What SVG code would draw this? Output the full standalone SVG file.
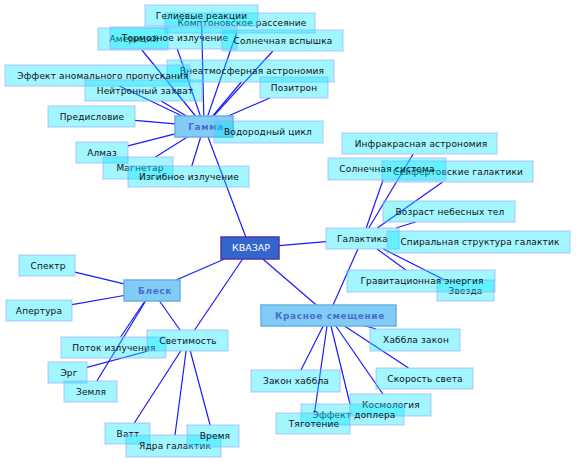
<svg xmlns="http://www.w3.org/2000/svg" width="576" height="463" viewBox="0 0 576 463">
<style>
.n rect{fill:#00e6ff;fill-opacity:.37;stroke:#9aa8ff;stroke-opacity:.45;stroke-width:1.5}
.n text{font-family:"DejaVu Sans",sans-serif;font-size:9px;fill:#111;text-anchor:middle;letter-spacing:.15px}
.h rect{fill:#80ccf4;stroke:#6aaee8;stroke-width:1.5}
.h text{font-family:"DejaVu Sans",sans-serif;font-size:9px;font-weight:bold;fill:#4a6cd0;text-anchor:middle;letter-spacing:.6px}
.q rect{fill:#3366cc;stroke:#5533aa;stroke-width:1.5}
.q text{font-family:"DejaVu Sans",sans-serif;font-size:9.5px;fill:#fff;text-anchor:middle}
.c line{stroke:#1a1aff;stroke-width:1.2}
</style>
<rect width="576" height="463" fill="#fff"/>
<g id="connectors" class="c">
<line x1="245.8" y1="237" x2="208" y2="137"/>
<line x1="279" y1="245.6" x2="326" y2="241.6"/>
<line x1="224.6" y1="259" x2="176.2" y2="280"/>
<line x1="242.6" y1="259" x2="194.6" y2="330"/>
<line x1="262.8" y1="259" x2="316.3" y2="305"/>
<line x1="357.9" y1="249" x2="333.1" y2="305"/>
<line x1="175" y1="123.9" x2="135" y2="120.4"/>
<line x1="175" y1="133.9" x2="128" y2="145.9"/>
<line x1="187.3" y1="137" x2="155.5" y2="157"/>
<line x1="200.7" y1="137" x2="191.8" y2="166"/>
<line x1="182.1" y1="116" x2="119.4" y2="86"/>
<line x1="186.4" y1="116" x2="161.1" y2="101"/>
<line x1="195.5" y1="116" x2="141.9" y2="50"/>
<line x1="200.4" y1="116" x2="177.3" y2="49"/>
<line x1="203.8" y1="116" x2="201.7" y2="26"/>
<line x1="207.7" y1="116" x2="236.5" y2="33"/>
<line x1="213.6" y1="116" x2="272.9" y2="51"/>
<line x1="212.8" y1="116" x2="241.3" y2="82"/>
<line x1="228.2" y1="116" x2="269.8" y2="98"/>
<line x1="368.8" y1="228" x2="413.2" y2="154"/>
<line x1="366.2" y1="228" x2="383.1" y2="180"/>
<line x1="377.4" y1="228" x2="442.6" y2="182"/>
<line x1="396.1" y1="228" x2="415.4" y2="222"/>
<line x1="377" y1="249" x2="405.9" y2="270"/>
<line x1="383.3" y1="249" x2="444.7" y2="280"/>
<line x1="365.6" y1="326" x2="376.2" y2="329"/>
<line x1="344.5" y1="326" x2="408.5" y2="368"/>
<line x1="335.8" y1="326" x2="382.9" y2="394"/>
<line x1="331" y1="326" x2="350" y2="404"/>
<line x1="327" y1="326" x2="314.5" y2="413"/>
<line x1="323.2" y1="326" x2="301" y2="370"/>
<line x1="124" y1="283.8" x2="75" y2="272.2"/>
<line x1="124" y1="295.5" x2="72" y2="304.7"/>
<line x1="144.9" y1="301" x2="120.6" y2="337"/>
<line x1="145.6" y1="301" x2="96.9" y2="381"/>
<line x1="159.5" y1="301" x2="180" y2="330"/>
<line x1="148.1" y1="351" x2="87" y2="367.3"/>
<line x1="180.7" y1="351" x2="134.3" y2="423"/>
<line x1="186.1" y1="351" x2="175" y2="435"/>
<line x1="190.3" y1="351" x2="210.1" y2="425"/>
</g>
<g id="komp" class="n"><rect x="165" y="13" width="150" height="20"/><text x="242" y="26.3">Комптоновское рассеяние</text></g>
<g id="gel" class="n"><rect x="145" y="5" width="113" height="21"/><text x="201.5" y="18.8">Гелиевые реакции</text></g>
<g id="amer" class="n"><rect x="98" y="28" width="70" height="22"/><text x="134" y="42.3">Америций</text></g>
<g id="torm" class="n"><rect x="110" y="27" width="127" height="22"/><text x="175" y="41.3">Тормозное излучение</text></g>
<g id="solvsp" class="n"><rect x="222" y="30" width="121" height="21"/><text x="283" y="43.8">Солнечная вспышка</text></g>
<g id="vneatm" class="n"><rect x="167" y="60" width="167" height="22"/><text x="252" y="74.3">Внеатмосферная астрономия</text></g>
<g id="effekt" class="n"><rect x="5" y="65" width="185" height="21"/><text x="103" y="78.8">Эффект аномального пропускания</text></g>
<g id="pozitron" class="n"><rect x="260" y="77" width="68" height="21"/><text x="294" y="90.8">Позитрон</text></g>
<g id="neitr" class="n"><rect x="85" y="80" width="117" height="21"/><text x="145" y="93.8">Нейтронный захват</text></g>
<g id="predisl" class="n"><rect x="48" y="106" width="87" height="21"/><text x="92" y="119.8">Предисловие</text></g>
<g id="gamma" class="h"><rect x="175" y="116" width="58" height="21"/><text x="206" y="129.8">Гамма</text></g>
<g id="vodor" class="n"><rect x="214" y="121" width="109" height="22"/><text x="268" y="135.3">Водородный цикл</text></g>
<g id="almaz" class="n"><rect x="76" y="142" width="52" height="21"/><text x="102" y="155.8">Алмаз</text></g>
<g id="magnetar" class="n"><rect x="103" y="157" width="70" height="22"/><text x="140" y="171.3">Магнетар</text></g>
<g id="izgib" class="n"><rect x="128" y="166" width="121" height="21"/><text x="189" y="179.8">Изгибное излучение</text></g>
<g id="infra" class="n"><rect x="342" y="133" width="155" height="21"/><text x="421" y="146.8">Инфракрасная астрономия</text></g>
<g id="seif" class="n"><rect x="382" y="161" width="151" height="21"/><text x="458" y="174.8">Сейфертовские галактики</text></g>
<g id="solsys" class="n"><rect x="328" y="158" width="118" height="22"/><text x="387" y="172.3">Солнечная система</text></g>
<g id="vozrast" class="n"><rect x="383" y="201" width="132" height="21"/><text x="450" y="214.8">Возраст небесных тел</text></g>
<g id="galaktika" class="n"><rect x="326" y="228" width="73" height="21"/><text x="362.5" y="241.8">Галактика</text></g>
<g id="spiral" class="n"><rect x="387" y="231" width="183" height="22"/><text x="480" y="245.3">Спиральная структура галактик</text></g>
<g id="zvezda" class="n"><rect x="437" y="280" width="57" height="21"/><text x="465.5" y="293.8">Звезда</text></g>
<g id="grav" class="n"><rect x="347" y="270" width="148" height="22"/><text x="422" y="284.3">Гравитационная энергия</text></g>
<g id="kvazar" class="q"><rect x="221" y="237" width="58" height="22"/><text x="251" y="251.4">КВАЗАР</text></g>
<g id="krasnoe" class="h"><rect x="261" y="305" width="135" height="21"/><text x="330" y="318.8">Красное смещение</text></g>
<g id="habblazakon" class="n"><rect x="370" y="329" width="90" height="22"/><text x="416" y="343.3">Хаббла закон</text></g>
<g id="skorost" class="n"><rect x="376" y="368" width="97" height="21"/><text x="425" y="381.8">Скорость света</text></g>
<g id="zakonhabbla" class="n"><rect x="251" y="370" width="89" height="22"/><text x="296" y="384.3">Закон хаббла</text></g>
<g id="kosmologia" class="n"><rect x="350" y="394" width="81" height="22"/><text x="391" y="408.3">Космология</text></g>
<g id="doplera" class="n"><rect x="301" y="404" width="103" height="21"/><text x="354" y="417.8">Эффект доплера</text></g>
<g id="tyagotenie" class="n"><rect x="276" y="413" width="74" height="21"/><text x="314" y="426.8">Тяготение</text></g>
<g id="blesk" class="h"><rect x="124" y="280" width="56" height="21"/><text x="155" y="293.8">Блеск</text></g>
<g id="spektr" class="n"><rect x="19" y="255" width="56" height="21"/><text x="48" y="268.8">Спектр</text></g>
<g id="apertura" class="n"><rect x="6" y="300" width="66" height="21"/><text x="39" y="313.8">Апертура</text></g>
<g id="potok" class="n"><rect x="61" y="337" width="105" height="21"/><text x="114" y="350.8">Поток излучения</text></g>
<g id="svetimost" class="n"><rect x="147" y="330" width="81" height="21"/><text x="188" y="343.8">Светимость</text></g>
<g id="erg" class="n"><rect x="48" y="362" width="39" height="21"/><text x="69" y="375.8">Эрг</text></g>
<g id="zemlya" class="n"><rect x="64" y="381" width="53" height="21"/><text x="91" y="394.8">Земля</text></g>
<g id="vatt" class="n"><rect x="105" y="423" width="45" height="21"/><text x="128" y="436.8">Ватт</text></g>
<g id="yadra" class="n"><rect x="126" y="435" width="95" height="22"/><text x="175" y="449.3">Ядра галактик</text></g>
<g id="vremya" class="n"><rect x="187" y="425" width="52" height="22"/><text x="215" y="439.3">Время</text></g>
</svg>
